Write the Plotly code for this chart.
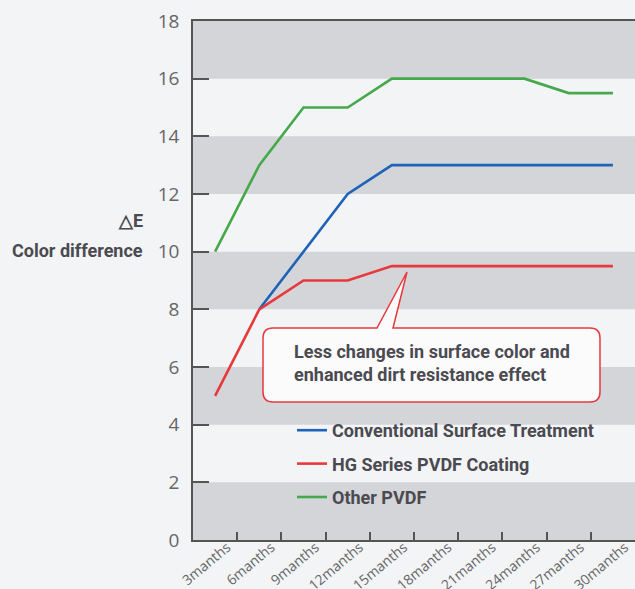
import plotly.graph_objects as go

categories = ["3manths", "6manths", "9manths", "12manths", "15manths",
              "18manths", "21manths", "24manths", "27manths", "30manths"]
conventional = [None, 8, 10, 12, 13, 13, 13, 13, 13, 13]
hg_series = [5, 8, 9, 9, 9.5, 9.5, 9.5, 9.5, 9.5, 9.5]
other_pvdf = [10, 13, 15, 15, 16, 16, 16, 16, 15.5, 15.5]
y_ticks = [0, 2, 4, 6, 8, 10, 12, 14, 16, 18]

W, H = 635, 589
ML, MR, MT, MB = 193, 0, 21, 49
PW, PH = W - ML - MR, H - MT - MB

BG = "#f3f4f6"
BAND = "#d3d5d8"
TEXT = "#4a4a50"
FONT = "Roboto"

def px(x):
    return (x - ML) / PW

def py(y):
    return (H - MB - y) / PH

fig = go.Figure()
series = [
    ("Conventional Surface Treatment", conventional, "#1f63b8"),
    ("HG Series PVDF Coating", hg_series, "#e8383d"),
    ("Other PVDF", other_pvdf, "#45a94b"),
]
for i, (name, vals, col) in enumerate(series):
    fig.add_trace(go.Scatter(
        x=categories, y=vals, name=name, mode="lines",
        line=dict(color=col, width=2.6), legendgroup=str(i),
    ))

shapes = []
for lo in y_ticks[:-1:2]:
    shapes.append(dict(type="rect", xref="paper", yref="y", x0=0, x1=1,
                       y0=lo, y1=lo + 2, fillcolor=BAND, line_width=0,
                       layer="below"))

# callout box with pointer
L, R, T, B, r = px(263), px(600), py(328), py(402), 10
rx, ry = r / PW, r / PH
path = (f"M{L+rx},{T} L{px(377)},{T} L{px(407)},{py(272)} L{px(393)},{T} "
        f"L{R-rx},{T} Q{R},{T} {R},{T-ry} L{R},{B+ry} Q{R},{B} {R-rx},{B} "
        f"L{L+rx},{B} Q{L},{B} {L},{B+ry} L{L},{T-ry} Q{L},{T} {L+rx},{T} Z")
shapes.append(dict(type="path", xref="paper", yref="paper", path=path,
                   fillcolor="#fbfbfc", line=dict(color="#e8383d", width=1.5)))

annotations = [
    dict(text="Less changes in surface color and<br>enhanced dirt resistance effect",
         xref="paper", yref="paper", x=px(292), y=py(363), xanchor="left",
         yanchor="middle", align="left", showarrow=False,
         font=dict(family=FONT, size=18, color=TEXT, weight="bold")),
    dict(text="△E", xref="paper", yref="paper", x=px(145), y=py(221),
         xanchor="right", yanchor="middle", showarrow=False,
         font=dict(family=FONT, size=18, color=TEXT, weight="bold")),
    dict(text="Color difference", xref="paper", yref="paper", x=px(145), y=py(250),
         xanchor="right", yanchor="middle", showarrow=False,
         font=dict(family=FONT, size=18, color=TEXT, weight="bold")),
]

fig.update_layout(
    width=W, height=H,
    margin=dict(l=ML, r=MR, t=MT, b=MB, autoexpand=False),
    paper_bgcolor=BG, plot_bgcolor=BG,
    shapes=shapes, annotations=annotations,
    showlegend=True,
    legend=dict(x=px(292), y=py(412), xanchor="left", yanchor="top",
                bgcolor="rgba(0,0,0,0)", traceorder="grouped",
                tracegroupgap=7,
                font=dict(family=FONT, size=18, color=TEXT, weight="bold")),
    xaxis=dict(type="category", categoryorder="array", categoryarray=categories,
               tickson="boundaries", ticks="inside", ticklen=8, tickwidth=1.5,
               tickcolor="#555", showline=True, linecolor="#555", linewidth=1.5,
               mirror=True, showgrid=False, tickangle=-40, automargin=False,
               ticklabelstandoff=-8, ticklabelshift=12,
               tickfont=dict(family="Open Sans", size=14, color="#666"),
               range=[-0.5, 9.5]),
    yaxis=dict(range=[0, 18], tickvals=y_ticks, ticks="inside", ticklen=16,
               tickwidth=1.5, tickcolor="#555", showline=True, linecolor="#555",
               linewidth=1.5, showgrid=False, zeroline=False, automargin=False,
               ticklabelstandoff=8,
               tickfont=dict(family="Open Sans", size=19, color="#666")),
)

fig.write_html("out.html", config={"displayModeBar": False},
               post_script="document.body.style.margin='0';"
                           "document.body.style.background='#f3f4f6';")
